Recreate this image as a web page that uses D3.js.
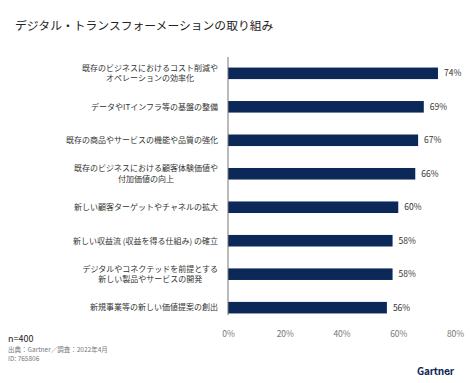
<!DOCTYPE html>
<html><head><meta charset="utf-8">
<script src="https://cdn.jsdelivr.net/npm/d3@7"></script>
<style>
body{margin:0;background:#fff;}
text{font-family:"Noto Sans CJK JP","Noto Sans",sans-serif;}
</style></head>
<body>
<svg id="chart" width="470" height="383"></svg>
<script>
const categories = [
  ["既存のビジネスにおけるコスト削減や","オペレーションの効率化"],
  ["データやITインフラ等の基盤の整備"],
  ["既存の商品やサービスの機能や品質の強化"],
  ["既存のビジネスにおける顧客体験価値や","付加価値の向上"],
  ["新しい顧客ターゲットやチャネルの拡大"],
  ["新しい収益流 (収益を得る仕組み) の確立"],
  ["デジタルやコネクテッドを前提とする","新しい製品やサービスの開発"],
  ["新規事業等の新しい価値提案の創出"]
];
const values = [74, 69, 67, 66, 60, 58, 58, 56];
const tickValues = [0, 20, 40, 60, 80];
const title = "デジタル・トランスフォーメーションの取り組み";
const footnotes = ["n=400", "出典：Gartner／調査：2022年4月", "ID: 765806"];

const svg = d3.select("#chart");
const x = d3.scaleLinear().domain([0, 80]).range([228, 455]);
const y = d3.scaleBand().domain(d3.range(categories.length)).range([56.5, 324.5]).paddingInner(0.655).paddingOuter(0.33);

svg.append("text").attr("x", 15).attr("y", 30).attr("font-size", 11.8).attr("fill", "#222").text(title);

// bars
svg.selectAll("rect.bar").data(values).join("rect").attr("class","bar")
  .attr("x", x(0)).attr("y", (d,i)=>y(i)).attr("width", d=>x(d)-x(0)).attr("height", y.bandwidth())
  .attr("fill", "#0b2858");

// value labels
svg.selectAll("text.val").data(values).join("text").attr("class","val")
  .attr("x", d=>x(d)+6).attr("y", (d,i)=>y(i)+y.bandwidth()/2).attr("dy","0.35em")
  .attr("font-size", 8.5).attr("fill","#333").attr("font-family",'"Liberation Sans",Arial,sans-serif').text(d=>d+"%");

// category labels
const labelRight = 218;
categories.forEach((lines,i)=>{
  const cy = y(i)+y.bandwidth()/2;
  const g = svg.append("g");
  const lh = 10.5;
  const texts = lines.map((l,j)=>g.append("text").attr("font-size",8).attr("fill","#333")
     .attr("y", cy + (j-(lines.length-1)/2)*lh).attr("dy","0.35em").text(l));
  const maxW = d3.max(texts, t=>t.node().getComputedTextLength());
  texts.forEach(t=>t.attr("text-anchor","middle").attr("x", labelRight - maxW/2));
});

// axis
const axis = d3.axisBottom(x).tickValues(tickValues).tickFormat(d=>d+"%").tickSize(0).tickPadding(0);
const ag = svg.append("g").attr("transform","translate(0,331)").call(axis);
ag.select(".domain").remove();
ag.selectAll("text").attr("font-size",8.5).attr("fill","#777").attr("font-family",'"Liberation Sans",Arial,sans-serif');

svg.append("line").attr("x1",x(0)).attr("x2",x(0)).attr("y1",57).attr("y2",315).attr("stroke","#777").attr("stroke-width",1);

// footnotes
svg.append("text").attr("x",8).attr("y",342).attr("font-size",9).attr("fill","#222").attr("font-family",'"Liberation Sans",Arial,sans-serif').text(footnotes[0]);
svg.append("text").attr("x",8).attr("y",351.5).attr("font-size",6.5).attr("fill","#777").text(footnotes[1]);
svg.append("text").attr("x",8).attr("y",360.5).attr("font-size",6.5).attr("fill","#777").attr("font-family",'"Liberation Sans",Arial,sans-serif').text(footnotes[2]);

svg.append("text").attr("x",417).attr("y",374.5).attr("font-size",10).attr("font-weight","bold").attr("fill","#0b2858").attr("font-family",'"Liberation Sans",Arial,sans-serif').attr("letter-spacing","-0.2").text("Gartner");
svg.append("circle").attr("cx",449).attr("cy",373.5).attr("r",0.9).attr("fill","#0b2858");
</script>
</body></html>
